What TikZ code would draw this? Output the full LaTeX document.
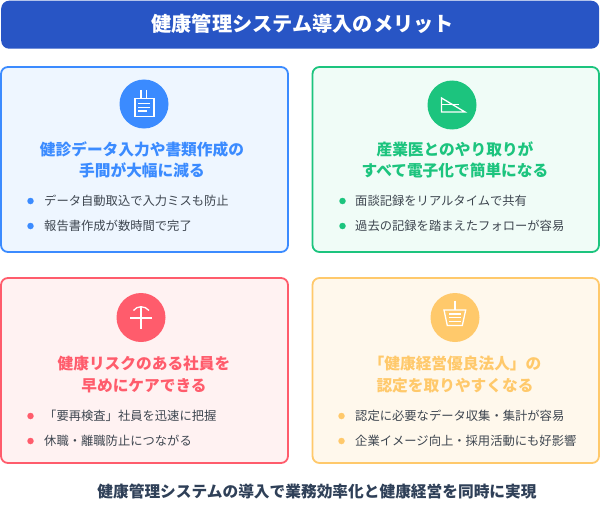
\documentclass[tikz,border=0pt]{standalone}
\usepackage{fontspec}
\setmainfont{Noto Sans CJK JP}
\definecolor{titlebg}{HTML}{2855C5}
\definecolor{bluec}{HTML}{3B8BFF}\definecolor{bluef}{HTML}{EEF6FF}
\definecolor{greenc}{HTML}{1CC47E}\definecolor{greenf}{HTML}{F0FCF7}
\definecolor{redc}{HTML}{FF5C6C}\definecolor{redf}{HTML}{FFF2F2}
\definecolor{yelc}{HTML}{FFC96B}\definecolor{yelf}{HTML}{FFF8EC}
\definecolor{bodyt}{HTML}{3E4650}\definecolor{foot}{HTML}{2F4058}
\tikzset{
 x=1pt,y=-1pt,
 card/.style={rounded corners=7pt,line width=1.8pt},
 cardtitle/.style={font=\fontsize{15.7}{21.5}\selectfont\bfseries,align=center,inner sep=0pt},
 item/.style={font=\fontsize{12.3}{16}\selectfont,text=bodyt,anchor=west,inner sep=0pt},
 ico/.style={draw=white,line width=1.3pt},
 dot/.style={circle,inner sep=0pt,minimum size=6.5pt}
}
\begin{document}
\begin{tikzpicture}
\useasboundingbox (0,0) rectangle (600,511);
\fill[white] (0,0) rectangle (600,511);
\node[name=titlebox,fill=titlebg,rounded corners=8pt,minimum width=598pt,minimum height=48pt,inner sep=0pt,anchor=north west] at (1,0.5) {};
\node[text=white,font=\fontsize{20.2}{24}\selectfont\bfseries,inner sep=0pt] (titletext) at (302.7,24) {健康管理システム導入のメリット};
% cards
\draw[card,draw=bluec,fill=bluef] (1,67) rectangle (288,252);
\draw[card,draw=greenc,fill=greenf] (312.5,67) rectangle (599,252);
\draw[card,draw=redc,fill=redf] (1,278) rectangle (288,463);
\draw[card,draw=yelc,fill=yelf] (312.5,278) rectangle (599,463);
% blue
\fill[bluec] (144,104) circle (24.5);
\draw[ico] (135,98.5) rectangle (154,116.5);
\draw[ico] (141,90) -- (141,98.5) (146.7,90) -- (146.7,98.5);
\draw[ico] (138,103.3) -- (150,103.3) (138,107.3) -- (150,107.3) (138,111) -- (147,111);
\node[cardtitle,text=bluec] (t1) at (142,160) {健診データ入力や書類作成の\\手間が大幅に減る};
\node[dot,fill=bluec] (d1) at (30.5,201) {};
\node[item] (i1) at (44,201) {データ自動取込で入力ミスも防止};
\node[dot,fill=bluec] (d2) at (30.5,226) {};
\node[item] (i2) at (44,226) {報告書作成が数時間で完了};
% green
\fill[greenc] (452,105) circle (24.5);
\draw[ico] (441.5,98) -- (441.5,112) -- (465,112) -- cycle;
\draw[ico] (441.5,104.5) -- (459,104.5);
\node[cardtitle,text=greenc] (t2) at (455,160) {産業医とのやり取りが\\すべて電子化で簡単になる};
\node[dot,fill=greenc] (d3) at (342.5,201) {};
\node[item] (i3) at (355,201) {面談記録をリアルタイムで共有};
\node[dot,fill=greenc] (d4) at (342.5,226) {};
\node[item] (i4) at (355,226) {過去の記録を踏まえたフォローが容易};
% red
\fill[redc] (141,317.5) circle (24.5);
\draw[ico] (141,306) -- (141,329) (130,318) -- (152.3,318);
\draw[ico] (133.5,310.5) .. controls (137,305.5) and (145,305.5) .. (149,310.5);
\node[cardtitle,text=redc] (t3) at (144,374.5) {健康リスクのある社員を\\早めにケアできる};
\node[dot,fill=redc] (d5) at (30.5,416) {};
\node[item] (i5) at (44,416) {「要再検査」社員を迅速に把握};
\node[dot,fill=redc] (d6) at (30.5,441) {};
\node[item] (i6) at (44,441) {休職・離職防止につながる};
% yellow
\fill[yelc] (455,317.5) circle (24.5);
\draw[ico] (455,300.7) -- (455,310);
\draw[ico] (444,310) -- (465.7,310) -- (462.3,325.5) -- (447.3,325.5) -- cycle;
\draw[ico] (449.3,314) -- (460.7,314) (449.3,317.7) -- (460.7,317.7) (449.3,321.3) -- (460.7,321.3);
\node[cardtitle,text=yelc] (t4) at (455,374.5) {「健康経営優良法人」の\\認定を取りやすくなる};
\node[dot,fill=yelc] (d7) at (341.5,416) {};
\node[item] (i7) at (355,416) {認定に必要なデータ収集・集計が容易};
\node[dot,fill=yelc] (d8) at (341.5,441) {};
\node[item] (i8) at (355,441) {企業イメージ向上・採用活動にも好影響};
\node[font=\fontsize{15.7}{20}\selectfont\bfseries,text=foot,inner sep=0pt] (footer) at (317,491.5) {健康管理システムの導入で業務効率化と健康経営を同時に実現};
\end{tikzpicture}
\end{document}
